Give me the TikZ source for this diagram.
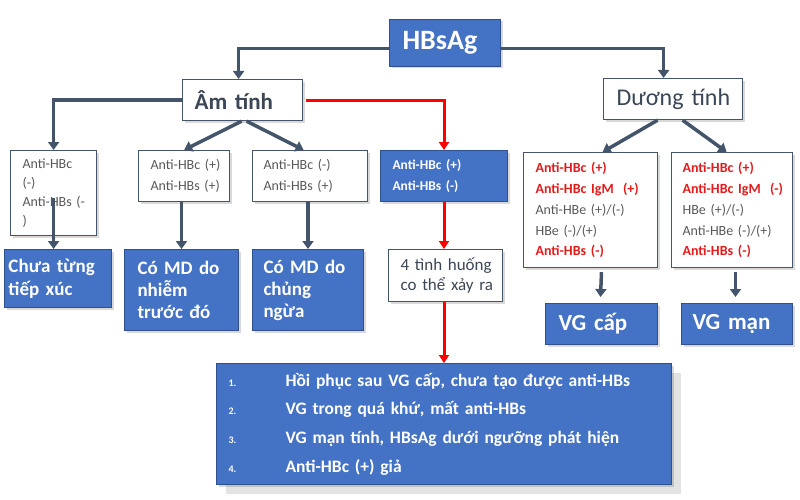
\documentclass[tikz,border=0pt]{standalone}
\usepackage{fontspec}
\setmainfont{Carlito}
\usetikzlibrary{arrows.meta,shadows}
\definecolor{myblue}{HTML}{4472C4}
\definecolor{bborder}{HTML}{2F528F}
\definecolor{linec}{HTML}{44546A}
\definecolor{textgray}{HTML}{595959}
\definecolor{textdark}{HTML}{3B4656}
\definecolor{redt}{HTML}{E41B1B}
\definecolor{shadowc}{HTML}{E3E3E3}
\newcommand{\fs}[2]{\fontsize{#1}{#2}\selectfont}
\newcommand{\rl}[1]{\textcolor{redt}{\bfseries\mbox{#1}}}
\tikzset{
  wbox/.style={draw=linec, line width=1.2pt, fill=white, anchor=north west, inner ysep=0pt, align=left, text=textgray,
    drop shadow={shadow xshift=2pt, shadow yshift=-2pt, fill=black, opacity=0.15}},
  bbox/.style={draw=bborder, line width=1pt, fill=myblue, text=white, anchor=north west, inner ysep=0pt, align=left,
    drop shadow={shadow xshift=2pt, shadow yshift=-2pt, fill=black, opacity=0.15}},
  conn/.style={draw=linec, line width=3.5pt, -{Triangle[width=11pt,length=8pt]}},
  redc/.style={draw=red, line width=3pt, -{Triangle[width=10pt,length=8pt]}},
}
\begin{document}
\begin{tikzpicture}[x=1pt,y=-1pt]
\useasboundingbox (0,0) rectangle (800,500);
% top
\node[bbox, minimum height=47pt, inner xsep=13pt, text width=85pt, font=\bfseries\fs{28}{30}] (hbs) at (389,19) {HBsAg};
\node[wbox, minimum height=41pt, inner xsep=12pt, text width=96pt, text=textdark, font=\bfseries\fs{23}{25}] (am) at (182,79) {\mbox{Âm tính}};
\node[wbox, minimum height=41pt, inner xsep=13pt, text width=113pt, text=textdark, font=\fs{24}{26}] (duong) at (603,78) {\mbox{Dương tính}};
% second row
\node[wbox, minimum height=85pt, inner xsep=12pt, text width=62pt, font=\fs{14}{18.7}] (b1) at (10,150) {\mbox{Anti-HBc}\\\mbox{(-)}\\\mbox{Anti-HBs (-}\\\mbox{)}};
\node[wbox, minimum height=51pt, inner xsep=12pt, text width=67pt, font=\fs{14}{21}] (b2) at (138,150) {\mbox{Anti-HBc (+)}\\\mbox{Anti-HBs (+)}};
\node[wbox, minimum height=51pt, inner xsep=11pt, text width=93pt, font=\fs{14}{21}] (b3) at (252,150) {\mbox{Anti-HBc (-)}\\\mbox{Anti-HBs (+)}};
\node[bbox, minimum height=51pt, inner xsep=12pt, text width=103pt, font=\bfseries\fs{13.5}{21}] (b4) at (380,150) {\mbox{Anti-HBc (+)}\\\mbox{Anti-HBs (-)}};
\node[wbox, minimum height=115pt, inner xsep=12pt, text width=110pt, font=\fs{14}{20.8}] (b6) at (523,152)
  {\rl{Anti-HBc (+)}\\\rl{Anti-HBc IgM\ \ (+)}\\\mbox{Anti-HBe (+)/(-)}\\\mbox{HBe (-)/(+)}\\\rl{Anti-HBs (-)}};
\node[wbox, minimum height=115pt, inner xsep=11pt, text width=99pt, font=\fs{14}{20.8}] (b7) at (671,152)
  {\rl{Anti-HBc (+)}\\\rl{Anti-HBc IgM\ \ (-)}\\\mbox{HBe (+)/(-)}\\\mbox{Anti-HBe (-)/(+)}\\\rl{Anti-HBs (-)}};
% third row
\node[bbox, minimum height=58pt, inner xsep=4pt, text width=99pt, font=\bfseries\fs{19}{23}] (c1) at (4,249) {\mbox{Chưa từng}\\\mbox{tiếp xúc}};
\node[bbox, minimum height=81pt, inner xsep=13pt, text width=88pt, font=\bfseries\fs{19}{22}] (c2) at (124,249) {\mbox{Có MD do}\\\mbox{nhiễm}\\\mbox{trước đó}};
\node[bbox, minimum height=81pt, inner xsep=11pt, text width=89pt, font=\bfseries\fs{19}{22}] (c3) at (252,249) {\mbox{Có MD do}\\\mbox{chủng}\\\mbox{ngừa}};
\node[wbox, minimum height=52pt, inner xsep=12pt, text width=90pt, text=textdark, font=\fs{17}{20}] (b5) at (388,249) {\mbox{4 tình huống}\\\mbox{co thể xảy ra}};
\node[bbox, minimum height=41pt, inner xsep=13pt, text width=86pt, font=\bfseries\fs{23}{25}] (vgc) at (545,303) {\mbox{VG cấp}};
\node[bbox, minimum height=41pt, inner xsep=11pt, text width=89pt, font=\bfseries\fs{23}{25}] (vgm) at (681,303) {\mbox{VG mạn}};
% list
\fill[shadowc] (226,373) rectangle (681,494);
\node[bbox, drop shadow={opacity=0}, minimum height=121pt, inner xsep=12pt, text width=431pt, font=\bfseries\fs{17.5}{28.7}] (list) at (216,363)
  {\makebox[57pt][l]{\fs{10}{10}1.}Hồi phục sau VG cấp, chưa tạo được anti-HBs\\
   \makebox[57pt][l]{\fs{10}{10}2.}VG trong quá khứ, mất anti-HBs\\
   \makebox[57pt][l]{\fs{10}{10}3.}VG mạn tính, HBsAg dưới ngưỡng phát hiện\\
   \makebox[57pt][l]{\fs{10}{10}4.}Anti-HBc (+) giả};
% connectors
\draw[conn] ([yshift=-5.5pt]hbs.west) -| ([xshift=-4pt]am.north);
\draw[conn] ([yshift=-5.5pt]hbs.east) -| ([xshift=-9.5pt]duong.north);
\draw[conn] (am.west) -| (b1.north);
\draw[conn] ([yshift=-4.5pt]b1.center) -- (b1.center |- c1.north);
\draw[conn] ([xshift=-1pt]am.south) -- (b2.north);
\draw[conn] ([xshift=4pt]am.south) -- ([xshift=-6.5pt]b3.north);
\draw[conn] (b2.south -| c2.north) -- (c2.north);
\draw[conn] (b3.south -| c3.north) -- (c3.north);
\draw[conn] ([xshift=-15.5pt]duong.south) -- ([xshift=12pt]b6.north);
\draw[conn] ([xshift=9.5pt]duong.south) -- ([xshift=-5.5pt]b7.north);
\draw[conn] ([yshift=-4pt]vgc.north |- b6.south) -- ([yshift=6pt,xshift=-1pt]vgc.north);
\draw[conn] ([yshift=-4pt,xshift=-1.5pt]vgm.north |- b7.south) -- ([yshift=6pt,xshift=-1.5pt]vgm.north);
\draw[redc] ([xshift=3pt]am.east) -| (b4.north);
\draw[redc] (b4.south) -- (b4.south |- b5.north);
\draw[redc] (list.north |- b5.south) -- (list.north);
\end{tikzpicture}
\end{document}
